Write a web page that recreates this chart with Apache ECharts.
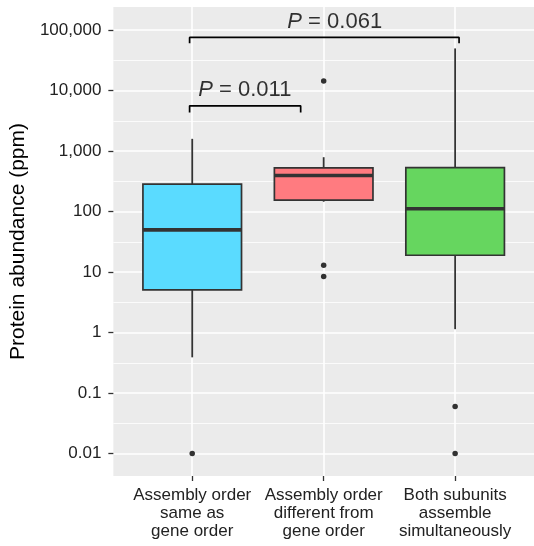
<!DOCTYPE html>
<html>
<head>
<meta charset="utf-8">
<script src="https://cdn.jsdelivr.net/npm/echarts@6/dist/echarts.min.js"></script>
<style>
  html, body { margin: 0; padding: 0; background: #fff; }
  #chart { width: 534px; height: 546px; }
</style>
</head>
<body>
<div id="chart"></div>
<script>
// categories along x (ggplot discrete positions 0,1,2)
var categories = [
    'Assembly order\nsame as\ngene order',
    'Assembly order\ndifferent from\ngene order',
    'Both subunits\nassemble\nsimultaneously'
];
var boxColors = ['#5ADBFF', '#FF7B80', '#66D65F'];

// box statistics, protein abundance in ppm
var whiskerLow  = [0.39, 146, 1.14];
var boxQ1       = [5.1, 155, 19];
var boxMedian   = [50, 395, 112];
var boxQ3       = [285, 530, 535];
var whiskerHigh = [1600, 795, 50000];

// outliers: [category index, ppm]
var outlierCat = [0, 1, 1, 1, 2, 2];
var outlierVal = [0.01, 14400, 13, 8.5, 0.06, 0.01];

// significance brackets
var bracketLeft  = [-0.02, -0.02];
var bracketRight = [0.825, 2.03];
var bracketTop   = [5620, 76000];
var bracketFoot  = [4350, 61000];
var pText  = ['0.011', '0.061'];
var pTextX = [0.4, 1.084];
var pTextY = [10350, 138000];

// y axis (log10 ppm)
var yTickExp    = [-2, -1, 0, 1, 2, 3, 4, 5];
var yTickLabels = ['0.01', '0.1', '1', '10', '100', '1,000', '10,000', '100,000'];
var yMinorExp   = [-1.5, -0.5, 0.5, 1.5, 2.5, 3.5, 4.5];
var yMin = -2.371, yMax = 5.384;

var FONT = "'Liberation Sans', Arial, Helvetica, sans-serif";
var BOX_WIDTH = 0.75;

function lg(v) { return Math.log10(v); }

var boxData = [];
for (var i = 0; i < categories.length; i++) {
    boxData.push([i, lg(whiskerLow[i]), lg(boxQ1[i]), lg(boxMedian[i]), lg(boxQ3[i]), lg(whiskerHigh[i])]);
}
var outlierData = [];
for (var j = 0; j < outlierVal.length; j++) {
    outlierData.push([outlierCat[j], lg(outlierVal[j])]);
}

function renderBox(params, api) {
    var x = api.value(0);
    var lo = api.coord([x, api.value(1)]);
    var q1 = api.coord([x, api.value(2)]);
    var med = api.coord([x, api.value(3)]);
    var q3 = api.coord([x, api.value(4)]);
    var hi = api.coord([x, api.value(5)]);
    var half = api.size([BOX_WIDTH, 0])[0] / 2;
    var line = { stroke: '#333333', lineWidth: 1.8 };
    return {
        type: 'group',
        children: [
            { type: 'line', shape: { x1: lo[0], y1: lo[1], x2: q1[0], y2: q1[1] }, style: line },
            { type: 'line', shape: { x1: q3[0], y1: q3[1], x2: hi[0], y2: hi[1] }, style: line },
            { type: 'rect', shape: { x: q3[0] - half, y: q3[1], width: half * 2, height: q1[1] - q3[1] },
              style: { fill: boxColors[params.dataIndex], stroke: '#333333', lineWidth: 1.7 } },
            { type: 'line', shape: { x1: med[0] - half, y1: med[1], x2: med[0] + half, y2: med[1] },
              style: { stroke: '#333333', lineWidth: 3.6 } }
        ]
    };
}

var series = [
    {
        type: 'custom',
        renderItem: renderBox,
        data: boxData,
        z: 3
    },
    {
        type: 'scatter',
        data: outlierData,
        symbolSize: 5.5,
        itemStyle: { color: '#000' },
        z: 4
    }
];

for (var k = 0; k < bracketLeft.length; k++) {
    series.push({
        type: 'line',
        data: [
            [bracketLeft[k], lg(bracketFoot[k])],
            [bracketLeft[k], lg(bracketTop[k])],
            [bracketRight[k], lg(bracketTop[k])],
            [bracketRight[k], lg(bracketFoot[k])]
        ],
        symbol: 'none',
        lineStyle: { color: '#000', width: 1.7 },
        z: 5
    });
    series.push({
        type: 'scatter',
        data: [[pTextX[k], lg(pTextY[k])]],
        symbolSize: 0,
        label: {
            show: true,
            position: 'inside',
            formatter: '{i|P} = ' + pText[k],
            fontSize: 22,
            fontFamily: FONT,
            color: '#000',
            rich: { i: { fontStyle: 'italic', fontSize: 22, fontFamily: FONT, color: '#000' } }
        },
        z: 5
    });
}

var option = {
    animation: false,
    backgroundColor: '#fff',
    textStyle: { fontFamily: FONT },
    grid: {
        left: 113,
        top: 7,
        width: 423,
        height: 469,
        show: true,
        backgroundColor: '#EBEBEB',
        borderWidth: 0
    },
    xAxis: {
        type: 'value',
        min: -0.6,
        max: 2.6,
        axisLine: { show: false, onZero: false },
        axisTick: { customValues: [0, 1, 2], length: 5, lineStyle: { color: '#333', width: 1.3 } },
        axisLabel: {
            customValues: [0, 1, 2],
            formatter: function (v) { return categories[Math.round(v)]; },
            fontSize: 17,
            lineHeight: 18,
            color: '#222',
            margin: 10,
            fontFamily: FONT
        },
        splitLine: { show: true, lineStyle: { color: '#fff', width: 1.6 } }
    },
    yAxis: [
        {
            type: 'value',
            min: yMin,
            max: yMax,
            name: 'Protein abundance (ppm)',
            nameLocation: 'middle',
            nameGap: 82,
            nameTextStyle: { fontSize: 21, color: '#000', fontFamily: FONT },
            axisLine: { show: false, onZero: false },
            axisTick: { customValues: yTickExp, length: 5, lineStyle: { color: '#333', width: 1.3 } },
            axisLabel: {
                customValues: yTickExp,
                formatter: function (v) { return yTickLabels[yTickExp.indexOf(Math.round(v))]; },
                fontSize: 17,
                color: '#222',
                margin: 12,
                fontFamily: FONT
            },
            splitLine: { show: true, lineStyle: { color: '#fff', width: 1.6 } }
        },
        {
            type: 'value',
            min: yMin,
            max: yMax,
            position: 'left',
            axisLine: { show: false, onZero: false },
            axisTick: { show: false, customValues: yMinorExp },
            axisLabel: { show: false, customValues: yMinorExp },
            splitLine: { show: true, lineStyle: { color: '#fff', width: 0.8 } }
        }
    ],
    series: series
};

var chart = echarts.init(document.getElementById('chart'));
chart.setOption(option);
</script>
</body>
</html>
